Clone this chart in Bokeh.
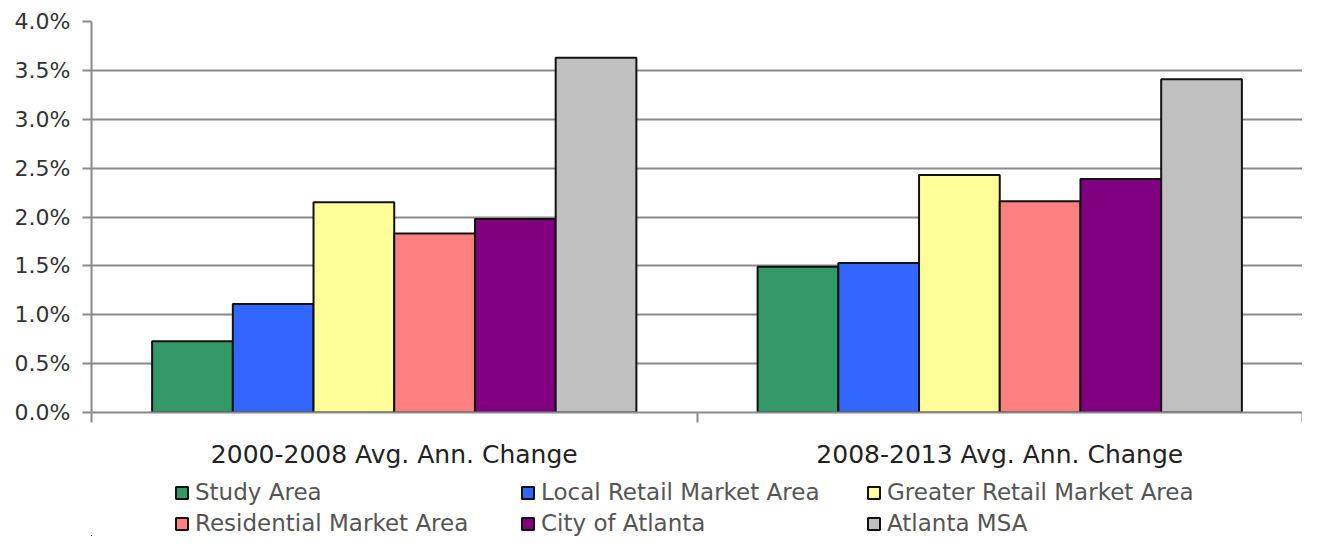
from bokeh.plotting import figure
from bokeh.layouts import column
from bokeh.models import (ColumnDataSource, Range1d, FixedTicker, NumeralTickFormatter,
                          Legend, LegendItem)
from bokeh.transform import dodge
from bokeh.embed import file_html
from bokeh.resources import INLINE

# ---- data ----
periods = ["2000-2008 Avg. Ann. Change", "2008-2013 Avg. Ann. Change"]
series = ["Study Area", "Local Retail Market Area", "Greater Retail Market Area",
          "Residential Market Area", "City of Atlanta", "Atlanta MSA"]
study_area = [0.0073, 0.0149]
local_retail = [0.0111, 0.0153]
greater_retail = [0.0215, 0.0243]
residential = [0.0183, 0.0216]
city_atlanta = [0.0198, 0.0239]
atlanta_msa = [0.0363, 0.0341]
colors = ["#339966", "#3366FF", "#FFFF99", "#FF8080", "#800080", "#C0C0C0"]
y_ticks = [0.0, 0.005, 0.01, 0.015, 0.02, 0.025, 0.03, 0.035, 0.04]

values = [study_area, local_retail, greater_retail, residential, city_atlanta, atlanta_msa]
centers = [i + 0.5 for i in range(len(periods))]
data = {"x": centers}
for name, vals in zip(series, values):
    data[name] = vals
src = ColumnDataSource(data)

W = 1302
p = figure(width=W, height=471, output_backend="svg", toolbar_location=None,
           x_range=Range1d(0, len(periods)), y_range=Range1d(0, 0.04),
           min_border_left=91, min_border_top=21, min_border_right=0, min_border_bottom=57)
p.outline_line_color = None
p.background_fill_color = "white"

bw = 0.1333
for j, (name, col) in enumerate(zip(series, colors)):
    off = (j - (len(series) - 1) / 2) * bw
    p.vbar(x=dodge("x", off), top=name, width=bw, source=src,
           fill_color=col, line_color="#111111", line_width=2)

# y axis
p.yaxis.ticker = FixedTicker(ticks=y_ticks)
p.yaxis.formatter = NumeralTickFormatter(format="0.0%")
p.yaxis.axis_line_color = "#8a8a8a"
p.yaxis.axis_line_width = 2
p.yaxis.major_tick_line_color = "#8a8a8a"
p.yaxis.major_tick_line_width = 2
p.yaxis.major_tick_out = 9
p.yaxis.major_tick_in = 0
p.yaxis.minor_tick_line_color = None
p.yaxis.major_label_text_font = "DejaVu Sans"
p.yaxis.major_label_text_font_size = "22px"
p.yaxis.major_label_text_color = "#333333"
p.yaxis.major_label_standoff = 12

# x axis
p.xaxis.ticker = FixedTicker(ticks=centers, minor_ticks=[0, 1, 2])
p.xaxis.major_label_overrides = {c: lab for c, lab in zip(centers, periods)}
p.xaxis.axis_line_color = "#8a8a8a"
p.xaxis.axis_line_width = 2
p.xaxis.major_tick_line_color = None
p.xaxis.major_tick_out = 0
p.xaxis.major_tick_in = 0
p.xaxis.minor_tick_line_color = "#8a8a8a"
p.xaxis.minor_tick_line_width = 2
p.xaxis.minor_tick_out = 10
p.xaxis.minor_tick_in = 0
p.xaxis.major_label_text_font = "DejaVu Sans"
p.xaxis.major_label_text_font_size = "25px"
p.xaxis.major_label_text_color = "#222222"
p.xaxis.major_label_standoff = 17

p.xgrid.grid_line_color = None
p.ygrid.ticker = FixedTicker(ticks=y_ticks)
p.ygrid.grid_line_color = "#8a8a8a"
p.ygrid.grid_line_width = 2

# ---- legend strip (its own small figure, swatches use the same series styles) ----
lg = figure(width=W, height=65, output_backend="svg", toolbar_location=None,
            x_range=Range1d(100, 101), y_range=Range1d(100, 101),
            x_axis_location=None, y_axis_location=None,
            min_border_left=0, min_border_right=0, min_border_top=0, min_border_bottom=0)
lg.grid.grid_line_color = None
lg.outline_line_color = None
items = []
for j, (name, col) in enumerate(zip(series, colors)):
    off = (j - (len(series) - 1) / 2) * bw
    r = lg.vbar(x=dodge("x", off), top=name, width=bw, source=src,
                fill_color=col, line_color="#111111", line_width=2)
    items.append(LegendItem(label=name, renderers=[r]))

legend = Legend(items=items, nrows=2, orientation="horizontal", location=(83, 0),
                label_text_font="DejaVu Sans", label_text_font_size="23px",
                label_text_color="#555555", glyph_width=15, glyph_height=15,
                label_width=320, label_height=24, label_standoff=6, spacing=5,
                padding=0, margin=0, border_line_color=None, background_fill_alpha=0)
lg.add_layout(legend, "center")

layout = column(p, lg, spacing=0)
open("out.html", "w").write(file_html(layout, INLINE))
